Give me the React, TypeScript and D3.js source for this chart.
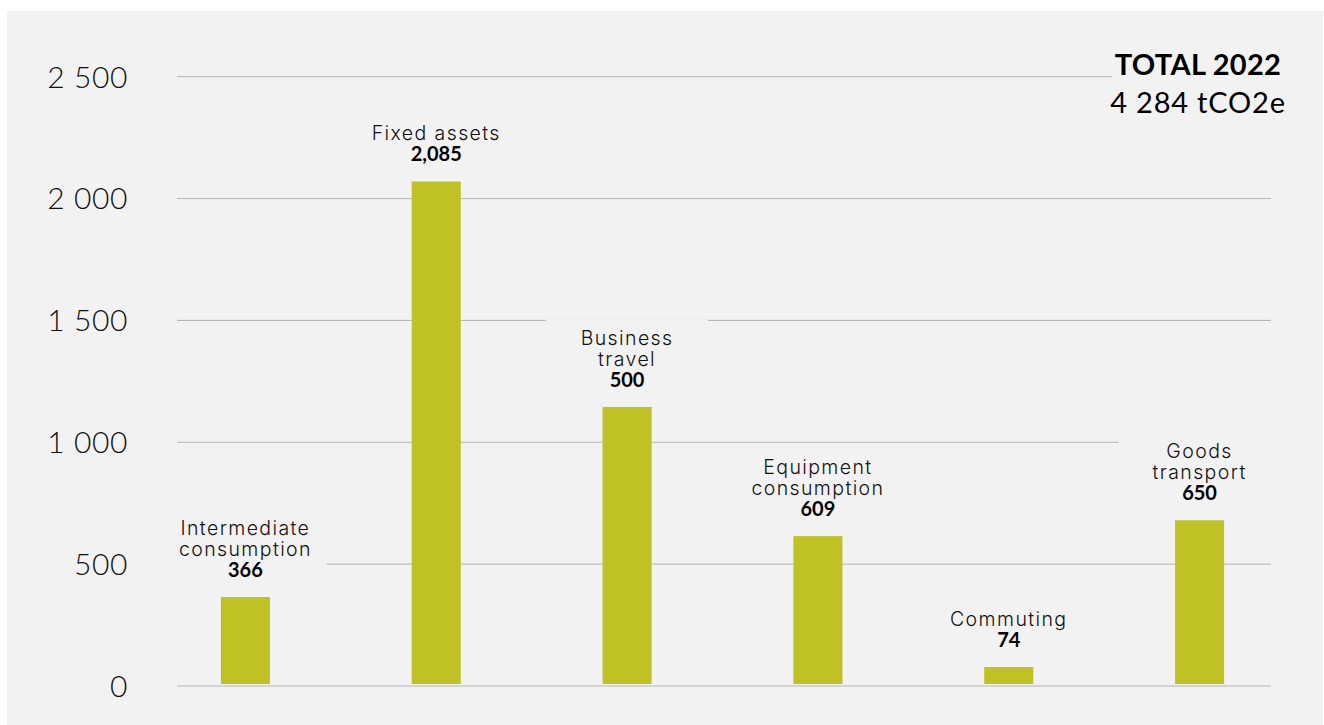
import React from "react";
import * as d3 from "d3";

const categories = [
  "Intermediate consumption",
  "Fixed assets",
  "Business travel",
  "Equipment consumption",
  "Commuting",
  "Goods transport",
];
const categoryLines = [
  ["Intermediate", "consumption"],
  ["Fixed assets"],
  ["Business", "travel"],
  ["Equipment", "consumption"],
  ["Commuting"],
  ["Goods", "transport"],
];
const barValues = [365, 2070, 1145, 615, 78, 680];
const valueLabels = ["366", "2,085", "500", "609", "74", "650"];
const yTicks = [0, 500, 1000, 1500, 2000, 2500];
const yTickLabels = ["0", "500", "1 000", "1 500", "2 000", "2 500"];
const totalTitle = "TOTAL 2022";
const totalValue = "4 284 tCO2e";

const W = 1324;
const H = 725;
const PANEL = "#f2f2f2";
const BAR = "#bec223";
const GRID = "#b5b5b5";
const FONT = "Lato, 'Open Sans', sans-serif";
const CAT_FONT = "Inter, 'Open Sans', Lato, sans-serif";

export default function App() {
  const x = d3
    .scaleBand<string>()
    .domain(categories)
    .range([150, 1295])
    .paddingInner(0.743)
    .paddingOuter(0.3715);
  const y = d3.scaleLinear().domain([0, 2500]).range([686, 76.7]);
  const gridX0 = 177;
  const gridX1 = 1271;
  const lineH = 21;
  const gap = 20;
  const boxW = 162;
  const totalX = 1198;

  const labels = categories.map((c, i) => {
    const cx = (x(c) as number) + x.bandwidth() / 2;
    const lines = categoryLines[i];
    const valueBase = y(barValues[i]) - gap;
    const firstBase = valueBase - lines.length * lineH;
    return { c, cx, lines, valueBase, firstBase, i };
  });

  return (
    <svg
      width={W}
      height={H}
      style={{ position: "absolute", left: 0, top: 0, background: "#fff" }}
    >
      <rect x={7} y={11} width={W - 8} height={H - 11} fill={PANEL} />
      {yTicks.map((t, i) => (
        <g key={t}>
          <line
            x1={gridX0}
            x2={gridX1}
            y1={y(t)}
            y2={y(t)}
            stroke={GRID}
            strokeWidth={1}
          />
          <text
            x={128}
            y={y(t)}
            dy="0.36em"
            textAnchor="end"
            fontFamily={FONT}
            fontWeight={300}
            fontSize={30}
            letterSpacing={0.6}
            fill="#111"
          >
            {yTickLabels[i]}
          </text>
        </g>
      ))}
      {labels.map((l) => (
        <rect
          key={"box" + l.c}
          x={l.cx - boxW / 2}
          y={l.firstBase - 15 - 10}
          width={boxW}
          height={l.valueBase + 5 - (l.firstBase - 25)}
          fill={PANEL}
        />
      ))}
      <rect x={1112} y={50} width={180} height={70} fill={PANEL} />
      {categories.map((c, i) => (
        <rect
          key={c}
          x={x(c)}
          y={y(barValues[i])}
          width={x.bandwidth()}
          height={y(0) - 2 - y(barValues[i])}
          fill={BAR}
        />
      ))}
      {labels.map((l) => (
        <g key={"lbl" + l.c}>
          {l.lines.map((s, k) => (
            <text
              key={s}
              x={l.cx}
              y={l.firstBase + k * lineH}
              textAnchor="middle"
              fontFamily={CAT_FONT}
              fontWeight={300}
              fontSize={19.5}
              letterSpacing={1.4}
              fill="#111"
            >
              {s}
            </text>
          ))}
          <text
            x={l.cx}
            y={l.valueBase}
            textAnchor="middle"
            fontFamily={FONT}
            fontWeight={700}
            fontSize={20}
            fill="#000"
          >
            {valueLabels[l.i]}
          </text>
        </g>
      ))}
      <text
        x={totalX}
        y={74.5}
        textAnchor="middle"
        fontFamily={FONT}
        fontWeight={700}
        fontSize={29}
        letterSpacing={0.3}
        fill="#000"
      >
        {totalTitle}
      </text>
      <text
        x={totalX}
        y={113}
        textAnchor="middle"
        fontFamily={FONT}
        fontWeight={400}
        fontSize={29}
        letterSpacing={0.8}
        fill="#000"
      >
        {totalValue}
      </text>
    </svg>
  );
}
